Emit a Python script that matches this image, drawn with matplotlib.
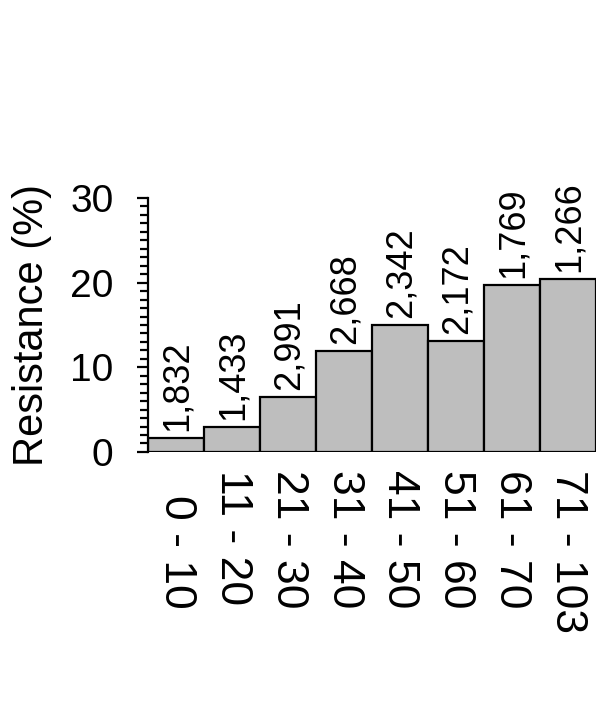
import matplotlib
matplotlib.use("Agg")
import matplotlib.pyplot as plt
from matplotlib.ticker import MultipleLocator

plt.rcParams['font.family'] = ['Liberation Sans', 'DejaVu Sans']

# age groups, resistance (%) and number of isolates per group
groups = ["0 - 10", "11 - 20", "21 - 30", "31 - 40", "41 - 50", "51 - 60", "61 - 70", "71 - 103"]
resistance = [1.7, 2.9, 6.5, 11.9, 15.0, 13.1, 19.7, 20.4]
counts = ["1,832", "1,433", "2,991", "2,668", "2,342", "2,172", "1,769", "1,266"]

fig = plt.figure(figsize=(6, 7.25), dpi=100)
ax = fig.add_axes([0.2467, 0.3766, 0.7466, 0.3503])

x = list(range(len(groups)))
ax.bar(x, resistance, width=1.0, color="#bebebe", edgecolor="black", linewidth=1.6)

ax.set_xlim(-0.5, len(groups) - 0.5)
ax.set_ylim(0, 30)

for s in ["top", "right", "bottom"]:
    ax.spines[s].set_visible(False)
ax.spines["left"].set_linewidth(1.6)

ax.yaxis.set_major_locator(MultipleLocator(10))
ax.yaxis.set_minor_locator(MultipleLocator(1))
ax.tick_params(axis="y", which="major", length=8, width=1.6, labelsize=28, pad=17)
ax.tick_params(axis="y", which="minor", length=6, width=1.6)
ax.set_xticks([])

ax.set_ylabel("Resistance (%)", fontsize=30)
ax.yaxis.set_label_coords(-0.215, 0.5)

# value labels above bars
for xi, h, c in zip(x, resistance, counts):
    ax.annotate(c, xy=(xi, h), xytext=(1, 5), textcoords="offset points",
                rotation=90, ha="center", va="bottom", fontsize=26)

# group labels below the axis, reading downwards
for xi, g in zip(x, groups):
    off = 31 if g == "0 - 10" else 13
    ax.annotate(g, xy=(xi, 0), xycoords=("data", "axes fraction"),
                xytext=(0, -off), textcoords="offset points",
                rotation=270, rotation_mode="anchor", ha="left", va="center",
                fontsize=32)

fig.savefig("out.png", dpi=100)
